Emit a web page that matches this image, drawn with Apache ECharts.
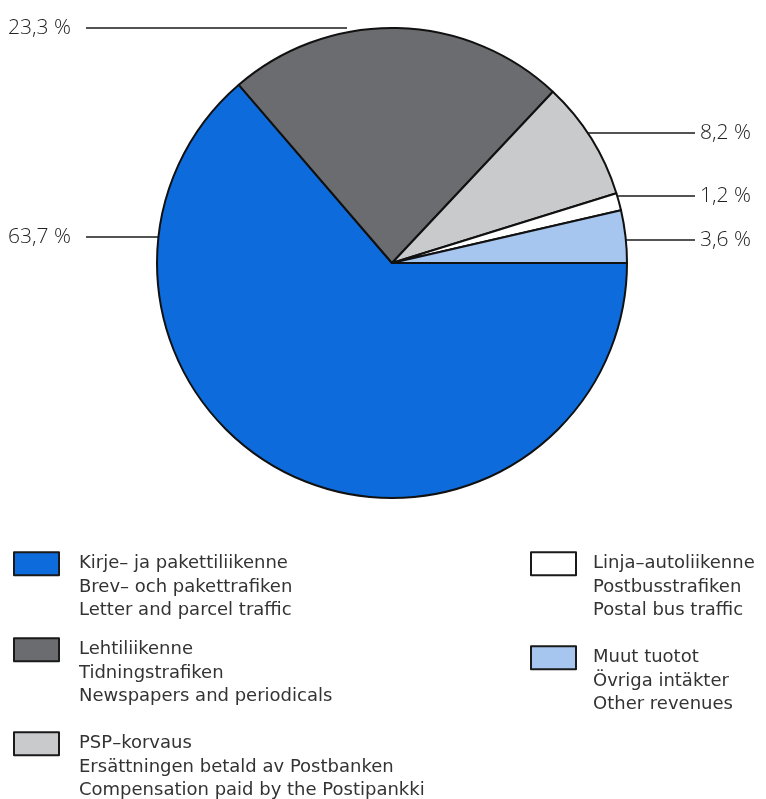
<!DOCTYPE html>
<html>
<head>
<meta charset="utf-8">
<script src="https://cdn.jsdelivr.net/npm/echarts@6/dist/echarts.min.js"></script>
<style>
  html, body { margin: 0; padding: 0; background: #fff; }
  #chart { width: 766px; height: 799px; }
</style>
</head>
<body>
<div id="chart"></div>
<script>
// ---- data ----
const namesFi = ['Kirje– ja pakettiliikenne', 'Lehtiliikenne', 'PSP–korvaus', 'Linja–autoliikenne', 'Muut tuotot'];
const namesSv = ['Brev– och pakettrafiken', 'Tidningstrafiken', 'Ersättningen betald av Postbanken', 'Postbusstrafiken', 'Övriga intäkter'];
const namesEn = ['Letter and parcel traffic', 'Newspapers and periodicals', 'Compensation paid by the Postipankki', 'Postal bus traffic', 'Other revenues'];
const values = [63.7, 23.3, 8.2, 1.2, 3.6];

// ---- styling / layout ----
const colors = ['#0d6bdb', '#6b6c6f', '#c9cacc', '#ffffff', '#a7c6ef'];
const CX = 392, CY = 263, R = 235;
const labelY = [237, 28, 133, 196, 240];
const labelSide = [-1, -1, 1, 1, 1];
const legendPos = [
  { left: 13, top: 552 }, { left: 13, top: 638 }, { left: 13, top: 732 },
  { left: 530, top: 552 }, { left: 530, top: 646 }
];
const LEG_FONT = 'DejaVu Sans';
const LAB_FONT = 'Open Sans';
const LEG_FS = 18, LEG_LH = 23.5;

const legends = namesFi.map((n, i) => ({
  data: [n],
  left: legendPos[i].left,
  top: legendPos[i].top - 2 * LEG_LH,
  orient: 'vertical',
  padding: 0,
  itemWidth: 45,
  itemHeight: 23,
  selectedMode: false,
  icon: 'rect',
  itemStyle: { borderColor: '#1a1a1a', borderWidth: 2 },
  formatter: function (name) {
    const k = namesFi.indexOf(name);
    return '\n\n' + ['{g|}' + namesFi[k], '{g|}' + namesSv[k], '{g|}' + namesEn[k]].join('\n');
  },
  textStyle: {
    fontFamily: LEG_FONT, fontSize: LEG_FS, lineHeight: LEG_LH, color: '#333333',
    rich: { g: { width: i < 3 ? 15 : 12, lineHeight: LEG_LH } }
  }
}));

const option = {
  backgroundColor: '#ffffff',
  animation: false,
  legend: legends,
  series: [{
    type: 'pie',
    center: [CX, CY],
    radius: R,
    startAngle: 0,
    clockwise: true,
    avoidLabelOverlap: false,
    itemStyle: { borderColor: '#111', borderWidth: 2 },
    data: namesFi.map((n, i) => ({ name: n, value: values[i], itemStyle: { color: colors[i] } })),
    label: {
      show: true,
      position: 'outside',
      formatter: p => String(p.value).replace('.', ',') + ' %',
      fontFamily: LAB_FONT,
      fontWeight: 300,
      fontSize: 21,
      color: '#222222'
    },
    labelLine: { show: true, lineStyle: { color: '#1a1a1a', width: 1.5 } },
    labelLayout: function (params) {
      const i = params.dataIndex;
      const y = labelY[i];
      const side = labelSide[i];
      const dy = y - CY;
      const edgeX = Math.abs(dy) < R ? CX + side * Math.sqrt(R * R - dy * dy) : CX - 45;
      if (side < 0) {
        return {
          x: 8, y: y, align: 'left', verticalAlign: 'middle',
          labelLinePoints: [[edgeX, y], [edgeX, y], [86, y]]
        };
      }
      return {
        x: 700, y: y, align: 'left', verticalAlign: 'middle',
        labelLinePoints: [[edgeX, y], [edgeX, y], [695, y]]
      };
    }
  }]
};

const chart = echarts.init(document.getElementById('chart'), null, { renderer: 'canvas' });
chart.setOption(option);
</script>
</body>
</html>
